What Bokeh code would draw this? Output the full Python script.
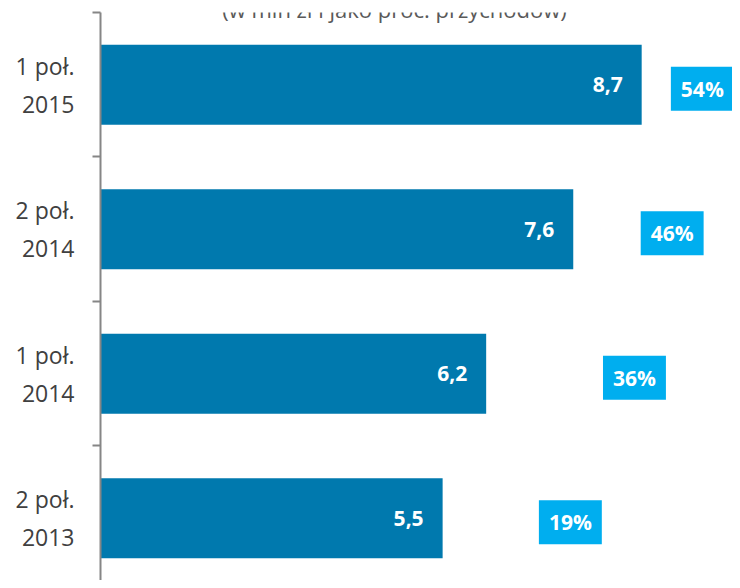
from bokeh.plotting import figure
from bokeh.models import Range1d, FixedTicker, Label, ColumnDataSource, LinearAxis
from bokeh.core.properties import value
from bokeh.embed import file_html
from bokeh.resources import INLINE

periods = ["1 poł.\n2015", "2 poł.\n2014", "1 poł.\n2014", "2 poł.\n2013"]
amounts = [8.7, 7.6, 6.2, 5.5]          # mln zł
share_pct = [54, 46, 36, 19]            # % of revenue
title_text = "(w mln zł i jako proc. przychodów)"

n = len(periods)
ypos = [n - 0.5 - i for i in range(n)]

src = ColumnDataSource(dict(
    y=ypos,
    amt=amounts,
    amt_lbl=[f"{v:.1f}".replace(".", ",") for v in amounts],
    pct=share_pct,
    pct_lbl=[f"{v}%" for v in share_pct],
))

FONT = "Open Sans"

p = figure(width=732, height=580, output_backend="svg", toolbar_location=None,
           x_range=Range1d(0, 10.16), y_range=Range1d(0.069, n),
           min_border_left=100, min_border_right=0, min_border_top=12, min_border_bottom=0,
           x_axis_location=None, y_axis_location=None)
p.extra_x_ranges = {"pct": Range1d(-105.6, 62.0)}
p.grid.visible = False
p.outline_line_color = None
p.background_fill_color = "white"
p.border_fill_color = "white"

p.hbar(y="y", right="amt", left=0, height=0.553, source=src,
       fill_color="#0079AE", line_color=None)

p.text(x="amt", y="y", text="amt_lbl", source=src, x_offset=-19,
       text_align="right", text_baseline="middle",
       text_font=value(FONT), text_font_style="bold", text_font_size="21px",
       text_color="white")

p.text(x="pct", y="y", text="pct_lbl", source=src, x_range_name="pct",
       y_offset=4, text_align="center", text_baseline="middle",
       text_font=value(FONT), text_font_style="bold", text_font_size="21px",
       text_color="white", background_fill_color="#00AEEF", padding=(10, 8))

yaxis = LinearAxis(ticker=FixedTicker(ticks=ypos, minor_ticks=list(range(n + 1))))
yaxis.major_label_overrides = {y: lab for y, lab in zip(ypos, periods)}
yaxis.major_tick_in = 0
yaxis.major_tick_out = 0
yaxis.minor_tick_in = 0
yaxis.minor_tick_out = 8
yaxis.minor_tick_line_color = "#868686"
yaxis.minor_tick_line_width = 2
yaxis.axis_line_color = "#868686"
yaxis.axis_line_width = 2
yaxis.major_label_standoff = 18
yaxis.major_label_text_font = FONT
yaxis.major_label_text_font_size = "23px"
yaxis.major_label_text_color = "#404040"
p.add_layout(yaxis, "left")

title = Label(x=294, y=572, x_units="screen", y_units="screen", text=title_text,
              text_align="center", text_baseline="alphabetic",
              text_font=FONT, text_font_size="22px", text_color="#595959")
p.add_layout(title)

open("out.html", "w").write(file_html(p, INLINE))
